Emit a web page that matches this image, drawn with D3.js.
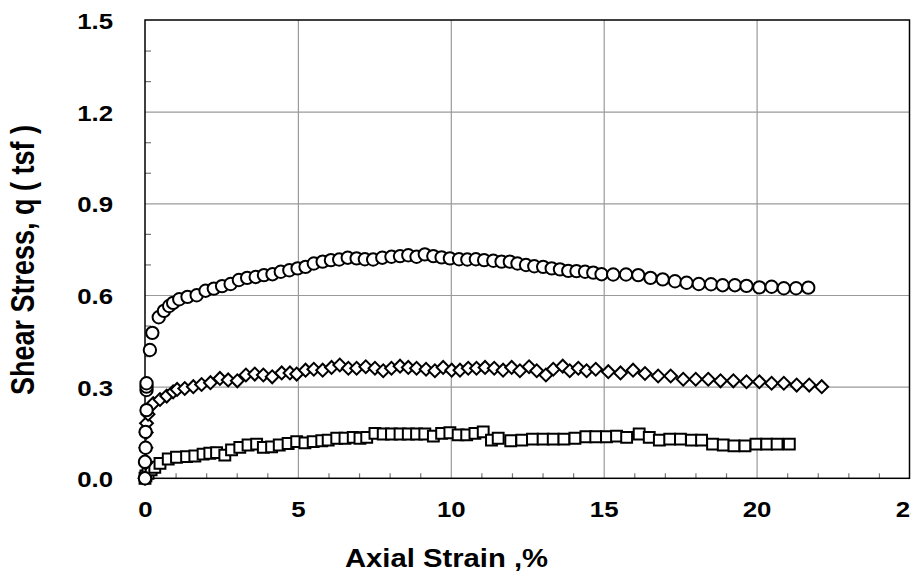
<!DOCTYPE html>
<html>
<head>
<meta charset="utf-8">
<script src="https://cdn.jsdelivr.net/npm/d3@7"></script>
<style>
  body { margin: 0; background: #fff; }
  text { font-family: "Liberation Sans", Arial, sans-serif; font-weight: bold; fill: #000; }
</style>
</head>
<body>
<svg id="chart" width="911" height="571"></svg>
<script>
// tick labels
var xTicks = [0, 5, 10, 15, 20, 25];
var yTicks = [0.0, 0.3, 0.6, 0.9, 1.2, 1.5];

// circles (upper curve)
var circStrain = [0, 0, 0.02, 0.02, 0.05, 0.05, 0.05, 0.05, 0.16, 0.24, 0.45, 0.62, 0.79, 0.92, 1.12, 1.39, 1.69, 1.98, 2.25, 2.52,
  2.80, 3.07, 3.34, 3.62, 3.89, 4.17, 4.44, 4.72, 4.99, 5.25, 5.52, 5.81, 6.08, 6.35, 6.63, 6.92, 7.19, 7.46, 7.76, 8.06,
  8.34, 8.61, 8.88, 9.15, 9.43, 9.70, 9.97, 10.27, 10.54, 10.82, 11.09, 11.39, 11.66, 11.93, 12.18, 12.46, 12.73, 13.02, 13.30, 13.57,
  13.84, 14.11, 14.39, 14.66, 14.93, 15.31, 15.73, 16.13, 16.53, 16.93, 17.33, 17.71, 18.11, 18.51, 18.89, 19.29, 19.67, 20.09, 20.49, 20.89,
  21.29, 21.69];
var circQ = [0, 0.054, 0.10, 0.152, 0.223, 0.289, 0.30, 0.311, 0.42, 0.476, 0.527, 0.548, 0.564, 0.574, 0.586, 0.594, 0.599, 0.614, 0.621, 0.629,
  0.636, 0.649, 0.656, 0.659, 0.665, 0.668, 0.676, 0.681, 0.687, 0.692, 0.703, 0.709, 0.714, 0.716, 0.722, 0.720, 0.717, 0.716, 0.722, 0.725,
  0.727, 0.730, 0.725, 0.733, 0.727, 0.723, 0.720, 0.717, 0.716, 0.717, 0.714, 0.712, 0.709, 0.709, 0.703, 0.698, 0.694, 0.692, 0.687, 0.684,
  0.679, 0.678, 0.676, 0.673, 0.668, 0.667, 0.667, 0.665, 0.656, 0.651, 0.645, 0.640, 0.636, 0.635, 0.632, 0.632, 0.630, 0.625, 0.627, 0.622,
  0.622, 0.624];

// diamonds (middle curve)
var diaStrain = [0, 0.02, 0.03, 0.04, 0.05, 0.10, 0.27, 0.49, 0.71, 0.92, 1.05, 1.30, 1.58, 1.85, 2.14, 2.45, 2.72, 3.02, 3.30, 3.59,
  3.87, 4.16, 4.47, 4.74, 4.96, 5.25, 5.52, 5.81, 6.10, 6.37, 6.65, 6.92, 7.22, 7.52, 7.79, 8.06, 8.34, 8.61, 8.88, 9.19,
  9.48, 9.75, 10.03, 10.30, 10.57, 10.84, 11.12, 11.42, 11.71, 11.99, 12.26, 12.56, 12.81, 13.11, 13.35, 13.66, 13.89, 14.17, 14.44, 14.74,
  15.15, 15.55, 15.96, 16.35, 16.78, 17.19, 17.60, 18.01, 18.42, 18.82, 19.24, 19.67, 20.09, 20.49, 20.89, 21.31, 21.72, 22.13];
var diaQ = [0, 0.05, 0.10, 0.15, 0.18, 0.21, 0.245, 0.258, 0.269, 0.283, 0.291, 0.294, 0.300, 0.307, 0.313, 0.327, 0.322, 0.319, 0.338, 0.341,
  0.338, 0.332, 0.345, 0.345, 0.341, 0.354, 0.357, 0.354, 0.363, 0.371, 0.360, 0.360, 0.365, 0.360, 0.352, 0.360, 0.367, 0.363, 0.360, 0.357,
  0.352, 0.363, 0.354, 0.354, 0.360, 0.360, 0.363, 0.360, 0.354, 0.363, 0.352, 0.365, 0.352, 0.338, 0.357, 0.367, 0.352, 0.360, 0.352, 0.357,
  0.349, 0.345, 0.354, 0.343, 0.335, 0.335, 0.324, 0.324, 0.324, 0.319, 0.319, 0.316, 0.316, 0.311, 0.311, 0.305, 0.305, 0.300];

// squares (lower curve)
var sqStrain = [0, 0.03, 0.10, 0.20, 0.32, 0.49, 0.76, 1.03, 1.36, 1.63, 1.90, 2.12, 2.34, 2.61, 2.83, 3.10, 3.37, 3.65, 3.87, 4.14,
  4.39, 4.68, 4.96, 5.23, 5.50, 5.78, 5.99, 6.27, 6.54, 6.81, 7.03, 7.25, 7.52, 7.79, 8.06, 8.34, 8.61, 8.88, 9.15, 9.43,
  9.70, 9.97, 10.24, 10.52, 10.79, 11.06, 11.33, 11.55, 11.96, 12.32, 12.67, 13.02, 13.35, 13.70, 14.06, 14.42, 14.74, 15.09, 15.42, 15.75,
  16.16, 16.49, 16.82, 17.16, 17.51, 17.87, 18.20, 18.56, 18.91, 19.26, 19.62, 19.98, 20.33, 20.67, 21.07];
var sqQ = [0, 0.008, 0.016, 0.028, 0.036, 0.049, 0.063, 0.069, 0.071, 0.073, 0.079, 0.082, 0.084, 0.076, 0.093, 0.101, 0.109, 0.112, 0.101, 0.103,
  0.109, 0.114, 0.120, 0.116, 0.120, 0.123, 0.125, 0.131, 0.131, 0.134, 0.131, 0.134, 0.147, 0.145, 0.145, 0.145, 0.145, 0.145, 0.145, 0.138,
  0.147, 0.149, 0.142, 0.142, 0.147, 0.152, 0.125, 0.131, 0.123, 0.125, 0.128, 0.128, 0.128, 0.128, 0.131, 0.136, 0.136, 0.136, 0.138, 0.134,
  0.145, 0.134, 0.125, 0.128, 0.128, 0.125, 0.125, 0.112, 0.109, 0.106, 0.106, 0.112, 0.112, 0.112, 0.112];

var svg = d3.select("#chart");
var x = d3.scaleLinear().domain([0, 25]).range([145, 909.5]);
var y = d3.scaleLinear().domain([0, 1.5]).range([478.3, 20]);
var stretch = "scale(1.2,1)";   // original picture is stretched horizontally
var plotH = y(0) - y(1.5), plotW = x(25) - x(0);

// gridlines
svg.append("g").attr("class", "grid")
  .attr("transform", "translate(0," + y(0) + ")")
  .call(d3.axisBottom(x).tickValues(xTicks.slice(1, -1)).tickSize(-plotH).tickFormat(""));
svg.append("g").attr("class", "grid")
  .attr("transform", "translate(" + x(0) + ",0)")
  .call(d3.axisLeft(y).tickValues(yTicks.slice(1, -1)).tickSize(-plotW).tickFormat(""));
svg.selectAll(".grid .domain").remove();
svg.selectAll(".grid line").attr("stroke", "#9a9a9a").attr("stroke-width", 1.2);

// minor ticks, inside
var xMinor = d3.range(1, 25).filter(function(d) { return d % 5 !== 0; });
var yMinor = d3.range(1, 15).filter(function(d) { return d % 3 !== 0; }).map(function(d) { return d / 10; });
svg.append("g").attr("class", "minor")
  .attr("transform", "translate(0," + y(0) + ")")
  .call(d3.axisBottom(x).tickValues(xMinor).tickSize(-5).tickFormat(""));
svg.append("g").attr("class", "minor")
  .attr("transform", "translate(" + x(0) + ",0)")
  .call(d3.axisLeft(y).tickValues(yMinor).tickSize(-6).tickFormat(""));
svg.selectAll(".minor .domain").remove();
svg.selectAll(".minor line").attr("stroke", "#777").attr("stroke-width", 1.2);

// frame
svg.append("rect")
  .attr("x", x(0)).attr("y", y(1.5))
  .attr("width", plotW).attr("height", plotH)
  .attr("fill", "none").attr("stroke", "#000").attr("stroke-width", 1.5);

// tick labels
var xAx = svg.append("g")
  .attr("transform", "translate(0," + y(0) + ")")
  .call(d3.axisBottom(x).tickValues(xTicks).tickSize(0).tickFormat(d3.format("d")));
xAx.select(".domain").remove();
xAx.selectAll("text")
  .attr("y", 0).attr("dy", "0.36em")
  .attr("transform", "translate(0,31) " + stretch)
  .style("font-size", "21.5px");

var yAx = svg.append("g")
  .attr("transform", "translate(" + x(0) + ",0)")
  .call(d3.axisLeft(y).tickValues(yTicks).tickSize(0).tickFormat(d3.format(".1f")));
yAx.select(".domain").remove();
yAx.selectAll("text")
  .attr("x", 0).attr("dy", "0.4em")
  .attr("transform", "translate(-32,0) " + stretch)
  .style("font-size", "21.5px");
svg.selectAll("text").attr("font-family", null).attr("font-size", null);

// axis titles
svg.append("text")
  .attr("transform", "translate(446.5,566.5) scale(1.17,1)")
  .attr("text-anchor", "middle")
  .style("font-size", "25px")
  .text("Axial Strain ,%");

svg.append("text")
  .attr("transform", "translate(34,260) " + stretch + " rotate(-90)")
  .attr("text-anchor", "middle")
  .style("font-size", "27px")
  .text("Shear Stress, q ( tsf )");

// markers
function pts(xs, ys) { return xs.map(function(d, i) { return [d, ys[i]]; }); }

var marks = svg.append("g")
  .attr("fill", "#fff").attr("stroke", "#000").attr("stroke-width", 2);

marks.selectAll("path.sq").data(pts(sqStrain, sqQ)).enter().append("path")
  .attr("class", "sq")
  .attr("d", d3.symbol().type(d3.symbolSquare).size(118))
  .attr("transform", function(d) { return "translate(" + x(d[0]) + "," + y(d[1]) + ")"; });

marks.selectAll("path.dia").data(pts(diaStrain, diaQ)).enter().append("path")
  .attr("class", "dia")
  .attr("d", d3.symbol().type(d3.symbolSquare).size(82))
  .attr("transform", function(d) { return "translate(" + x(d[0]) + "," + y(d[1]) + ") rotate(45)"; });

marks.selectAll("path.circ").data(pts(circStrain, circQ)).enter().append("path")
  .attr("class", "circ")
  .attr("d", d3.symbol().type(d3.symbolCircle).size(120))
  .attr("transform", function(d) { return "translate(" + x(d[0]) + "," + y(d[1]) + ")"; });
</script>
</body>
</html>
